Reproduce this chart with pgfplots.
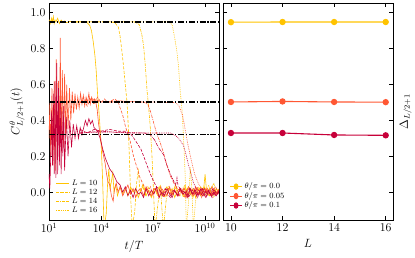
\documentclass[border=0pt]{standalone}
\usepackage{pgfplots}
\pgfplotsset{compat=1.18}
\definecolor{cA}{HTML}{FFC300}
\definecolor{cB}{HTML}{FF5733}
\definecolor{cC}{HTML}{C70039}
\tikzset{
  sL10/.style={solid},
  sL12/.style={dash pattern=on 3pt off 1.5pt},
  sL14/.style={dash pattern=on 3pt off 1pt on 0.8pt off 1pt},
  sL16/.style={dash pattern=on 0.8pt off 1pt},
  refline/.style={black, line width=1.3pt, dash pattern=on 6pt off 1.8pt on 1.2pt off 1.8pt},
}
\pgfplotsset{
  common/.style={
    scale only axis, width=170bp, height=217bp,
    ymin=-0.155, ymax=1.055, ytick={0,0.2,0.4,0.6,0.8,1.0},
    tick align=inside, major tick length=4bp,
    axis line style={line width=0.8pt},
    every tick/.style={line width=0.8pt, black},
    tick label style={font=\fontsize{11.5}{12}\selectfont},
    label style={font=\fontsize{11.5}{12}\selectfont},
    yticklabel style={/pgf/number format/.cd, fixed, fixed zerofill, precision=1},
    legend style={draw=none, fill=none, font=\fontsize{8.5}{9}\selectfont, row sep=-2pt},
    legend cell align=left,
  },
}
\begin{document}
\begin{tikzpicture}
\begin{axis}[common,
  xmin=1, xmax=10.8, xtick={1,4,7,10},
  xticklabels={$10^{1}$,$10^{4}$,$10^{7}$,$10^{10}$},
  xlabel={$t/T$}, ylabel={$C^{\theta}_{L/2+1}(t)$},
  xlabel style={yshift=-1bp}, ylabel style={yshift=-1bp},
  legend style={at={(0.02,0.01)}, anchor=south west},
  legend image post style={xscale=0.8},
  every axis plot/.append style={line width=0.6pt},
]
\addlegendimage{cA, sL10, line width=0.6pt}\addlegendentry{$L=10$}
\addlegendimage{cA, sL12, line width=0.6pt}\addlegendentry{$L=12$}
\addlegendimage{cA, sL14, line width=0.6pt}\addlegendentry{$L=14$}
\addlegendimage{cA, sL16, line width=0.6pt}\addlegendentry{$L=16$}
% theta/pi = 0.0
\addplot[cA, sL10, forget plot] coordinates {(1.00,0.95)(1.05,0.96)(1.10,0.94)(1.15,0.97)(1.20,0.95)(1.25,0.98)(1.30,0.94)(1.35,0.96)(1.40,0.95)(1.50,0.97)(1.60,0.94)(1.70,0.96)(1.80,0.95)(1.90,0.955)(2.0,0.945)(2.2,0.952)(2.5,0.948)(2.8,0.95)(3.0,0.949)(3.2,0.945)(3.35,0.93)(3.45,0.9)(3.55,0.84)(3.65,0.76)(3.72,0.68)(3.8,0.55)(3.88,0.45)(3.95,0.35)(4.02,0.24)(4.08,0.1)(4.13,-0.05)(4.18,-0.2)(4.3,-0.12)(4.38,0.05)(4.45,0.13)(4.52,0.02)(4.6,0.06)(4.68,0.11)(4.75,0.0)(4.85,0.04)(4.95,-0.02)
(5.1,0.03)(5.25,-0.01)(5.4,0.02)(5.55,-0.02)(5.7,0.03)(5.85,0.00)(6.0,0.02)(6.15,-0.03)(6.3,0.01)(6.45,0.04)(6.6,-0.02)(6.75,0.01)(6.9,-0.03)(7.05,0.02)(7.2,0.00)(7.35,0.03)(7.5,-0.02)(7.65,0.01)(7.8,0.03)(7.95,-0.01)(8.1,0.02)(8.25,-0.03)(8.4,0.01)(8.55,0.02)(8.7,-0.01)(8.85,0.03)(9.0,-0.02)(9.15,0.00)(9.3,0.02)(9.45,-0.03)(9.6,0.01)(9.75,0.03)(9.9,0.0)(10.0,0.1)(10.1,-0.01)(10.25,0.02)(10.4,-0.02)(10.55,0.01)(10.7,-0.01)(10.8,0.01)};
\addplot[cA, sL12, forget plot] coordinates {(2.5,0.95)(3.5,0.95)(4.5,0.95)(4.8,0.945)(5.0,0.92)(5.1,0.87)(5.2,0.79)(5.3,0.7)(5.4,0.6)(5.5,0.5)(5.58,0.35)(5.65,0.15)(5.72,-0.05)(5.8,-0.2)(5.95,-0.1)(6.05,0.05)(6.15,0.12)(6.25,0.0)(6.4,0.04)(6.55,-0.02)(6.7,0.03)(6.9,-0.01)
(7.1,0.02)(7.25,-0.02)(7.4,0.03)(7.55,0.00)(7.7,-0.03)(7.85,0.02)(8.0,0.01)(8.15,-0.02)(8.3,0.04)(8.45,-0.01)(8.6,0.02)(8.75,-0.03)(8.9,0.01)(9.05,0.03)(9.2,-0.02)(9.35,0.01)(9.5,-0.01)(9.65,0.02)(9.8,-0.02)(9.95,0.03)(10.1,0.0)(10.25,-0.02)(10.4,0.03)(10.55,0.0)(10.7,0.02)(10.8,-0.01)};
\addplot[cA, sL14, forget plot] coordinates {(2.5,0.95)(5.9,0.95)(6.2,0.935)(6.35,0.88)(6.45,0.82)(6.55,0.71)(6.65,0.57)(6.75,0.47)(6.85,0.35)(6.95,0.18)(7.05,-0.05)(7.12,-0.2)(7.3,-0.05)(7.42,0.04)(7.5,-0.08)(7.6,-0.2)(7.75,-0.05)(7.9,0.03)
(8.1,-0.01)(8.25,0.03)(8.4,0.0)(8.55,-0.02)(8.7,0.02)(8.85,0.04)(9.0,-0.01)(9.15,0.01)(9.3,-0.03)(9.45,0.02)(9.6,0.0)(9.75,-0.02)(9.9,0.03)(10.05,0.01)(10.2,-0.02)(10.35,0.02)(10.5,0.05)(10.65,-0.01)(10.8,0.02)};
\addplot[cA, sL16, forget plot] coordinates {(2.5,0.95)(7.9,0.95)(8.1,0.935)(8.25,0.86)(8.38,0.78)(8.47,0.7)(8.57,0.56)(8.67,0.46)(8.75,0.32)(8.85,0.1)(8.92,-0.2)(9.05,-0.05)(9.15,0.14)(9.25,0.0)(9.32,-0.2)(9.45,-0.05)
(9.6,0.03)(9.75,-0.01)(9.9,0.02)(10.05,-0.02)(10.2,0.04)(10.35,0.0)(10.5,-0.03)(10.65,0.02)(10.8,0.0)};
% theta/pi = 0.05
\addplot[cB, sL10, forget plot] coordinates {(1.0,0.3)(1.05,0.5)(1.1,0.2)(1.17,0.58)(1.23,0.15)(1.3,0.62)(1.36,0.12)(1.42,0.74)(1.48,0.18)(1.55,0.62)(1.6,0.2)(1.65,0.86)(1.7,0.22)(1.77,0.68)(1.83,0.25)(1.9,0.66)(1.96,0.3)(2.02,0.6)(2.1,0.35)(2.18,0.58)(2.26,0.4)(2.34,0.56)(2.42,0.44)(2.5,0.55)(2.58,0.46)(2.66,0.53)(2.74,0.47)(2.82,0.55)(2.9,0.49)(2.98,0.54)(3.06,0.48)(3.14,0.53)(3.22,0.5)(3.3,0.55)(3.38,0.49)(3.46,0.53)(3.54,0.5)(3.62,0.52)(3.7,0.5)(3.78,0.46)(3.86,0.38)(3.95,0.32)(4.05,0.25)(4.15,0.2)(4.24,0.16)(4.32,0.1)(4.4,0.06)(4.5,0.04)(4.6,-0.02)(4.7,-0.05)(4.78,0.02)(4.88,0.05)(4.98,0.0)
(5.1,0.03)(5.25,-0.02)(5.4,0.01)(5.55,0.04)(5.7,-0.01)(5.85,0.02)(6.0,-0.03)(6.15,0.01)(6.3,0.02)(6.45,-0.02)(6.6,0.03)(6.75,0.0)(6.9,-0.02)(7.05,0.02)(7.2,0.01)(7.35,-0.03)(7.5,0.02)(7.65,0.0)(7.8,-0.02)(7.95,0.03)(8.1,-0.01)(8.25,0.01)(8.4,-0.02)(8.55,0.02)(8.7,0.0)(8.85,-0.03)(9.0,0.02)(9.15,0.01)(9.3,-0.02)(9.45,0.03)(9.6,-0.01)(9.75,0.01)(9.9,-0.02)(10.05,0.02)(10.2,0.0)(10.35,-0.02)(10.5,0.02)(10.65,-0.01)(10.8,0.01)};
\addplot[cB, sL12, forget plot] coordinates {(2.8,0.5)(3.0,0.53)(3.2,0.48)(3.4,0.52)(3.6,0.49)(3.8,0.53)(4.0,0.5)(4.2,0.52)(4.4,0.5)(4.6,0.51)(4.8,0.52)(5.0,0.5)(5.1,0.47)(5.25,0.43)(5.4,0.37)(5.55,0.32)(5.68,0.285)(5.85,0.21)(6.0,0.16)(6.1,0.13)(6.25,0.08)(6.4,0.05)(6.55,0.02)
(6.7,0.0)(6.85,0.03)(7.0,-0.02)(7.15,0.02)(7.3,-0.01)(7.45,0.03)(7.6,-0.03)(7.75,0.01)(7.9,0.02)(8.05,-0.02)(8.2,0.01)(8.35,0.03)(8.5,-0.02)(8.65,0.0)(8.8,0.02)(8.95,-0.03)(9.1,0.01)(9.25,0.02)(9.4,-0.01)(9.55,0.03)(9.7,-0.02)(9.85,0.01)(10.0,0.0)(10.15,0.02)(10.3,-0.02)(10.45,0.01)(10.6,0.03)(10.8,-0.01)};
\addplot[cB, sL14, forget plot] coordinates {(2.8,0.5)(3.5,0.52)(4.2,0.5)(5.0,0.51)(6.5,0.5)(6.7,0.49)(6.85,0.45)(7.0,0.4)(7.2,0.33)(7.4,0.28)(7.6,0.22)(7.8,0.15)(8.0,0.09)(8.2,0.05)(8.4,0.02)
(8.6,0.0)(8.75,0.02)(8.9,-0.02)(9.05,0.03)(9.2,0.0)(9.35,-0.02)(9.5,0.02)(9.65,0.01)(9.8,-0.03)(9.95,0.02)(10.1,0.0)(10.25,-0.01)(10.4,0.03)(10.55,-0.02)(10.7,0.01)(10.8,0.0)};
\addplot[cB, sL16, forget plot] coordinates {(2.8,0.5)(3.6,0.51)(4.4,0.5)(6.0,0.505)(8.3,0.5)(8.5,0.48)(8.7,0.43)(8.85,0.35)(9.0,0.27)(9.2,0.18)(9.4,0.1)(9.6,0.05)(9.8,0.02)
(10.0,0.0)(10.15,0.02)(10.3,-0.02)(10.45,0.01)(10.6,-0.01)(10.8,0.02)};
% theta/pi = 0.1
\addplot[cC, sL10, forget plot] coordinates {(1.0,0.1)(1.05,0.02)(1.1,0.2)(1.15,0.45)(1.2,0.15)(1.25,0.55)(1.3,0.1)(1.35,0.62)(1.4,0.08)(1.45,0.72)(1.5,0.1)(1.55,0.58)(1.6,0.15)(1.65,0.5)(1.7,0.1)(1.75,0.45)(1.8,0.2)(1.85,0.48)(1.9,0.12)(2.0,0.42)(2.1,0.2)(2.2,0.4)(2.3,0.25)(2.4,0.38)(2.5,0.3)(2.6,0.37)(2.7,0.3)(2.8,0.36)(2.9,0.32)(3.0,0.36)(3.1,0.4)(3.2,0.37)(3.3,0.41)(3.4,0.38)(3.5,0.4)(3.6,0.36)(3.7,0.35)(3.8,0.34)(3.95,0.3)(4.1,0.24)(4.25,0.19)(4.33,0.17)(4.5,0.13)(4.72,0.1)(4.9,0.06)(5.1,0.04)(5.25,0.0)
(5.4,0.03)(5.55,-0.02)(5.7,0.01)(5.85,-0.03)(6.0,0.02)(6.15,-0.01)(6.3,0.0)(6.45,-0.03)(6.6,0.02)(6.75,-0.02)(6.9,0.01)(7.05,-0.01)(7.2,0.03)(7.35,-0.03)(7.5,0.0)(7.65,-0.02)(7.8,0.02)(7.95,-0.01)(8.1,-0.03)(8.25,0.01)(8.4,-0.02)(8.55,0.02)(8.7,-0.01)(8.85,0.0)(9.0,-0.03)(9.15,0.02)(9.3,-0.01)(9.45,0.01)(9.6,-0.02)(9.75,0.02)(9.9,-0.01)(10.05,-0.03)(10.2,0.01)(10.35,-0.02)(10.5,0.0)(10.65,-0.02)(10.8,0.01)};
\addplot[cC, sL12, forget plot] coordinates {(2.8,0.35)(3.2,0.33)(3.6,0.35)(4.0,0.34)(4.5,0.35)(5.0,0.34)(5.4,0.34)(5.68,0.33)(5.9,0.3)(6.1,0.27)(6.3,0.24)(6.5,0.19)(6.65,0.15)(6.85,0.1)(7.03,0.06)(7.2,0.03)
(7.4,0.01)(7.55,-0.02)(7.7,0.02)(7.85,-0.01)(8.0,-0.03)(8.15,0.01)(8.3,0.0)(8.45,-0.02)(8.6,0.02)(8.75,-0.01)(8.9,0.01)(9.05,-0.03)(9.2,0.0)(9.35,0.02)(9.5,-0.02)(9.65,0.01)(9.8,-0.01)(9.95,0.02)(10.1,-0.02)(10.25,0.0)(10.4,-0.03)(10.55,0.01)(10.7,-0.01)(10.8,0.0)};
\addplot[cC, sL14, forget plot] coordinates {(2.8,0.33)(4.0,0.34)(5.5,0.33)(6.5,0.33)(6.84,0.32)(7.1,0.29)(7.3,0.25)(7.6,0.21)(7.8,0.15)(8.0,0.1)(8.2,0.06)(8.3,0.04)(8.38,0.08)(8.45,0.03)(8.6,0.02)
(8.8,0.0)(8.95,-0.02)(9.1,0.02)(9.25,-0.01)(9.4,0.01)(9.55,-0.03)(9.7,0.0)(9.85,0.02)(10.0,-0.02)(10.15,0.01)(10.3,-0.01)(10.45,0.02)(10.6,-0.02)(10.8,0.0)};
\addplot[cC, sL16, forget plot] coordinates {(2.8,0.33)(4.5,0.335)(6.5,0.33)(8.0,0.33)(8.2,0.32)(8.38,0.31)(8.55,0.29)(8.76,0.26)(8.9,0.21)(9.05,0.15)(9.2,0.1)(9.34,0.05)(9.5,0.02)
(9.7,0.0)(9.85,-0.02)(10.0,0.01)(10.15,-0.01)(10.3,0.02)(10.45,-0.02)(10.6,0.0)(10.8,-0.01)};
% reference levels
\addplot[refline, forget plot] coordinates {(1,0.949)(10.8,0.949)};
\addplot[refline, forget plot] coordinates {(1,0.503)(10.8,0.503)};
\addplot[refline, forget plot] coordinates {(1,0.322)(10.8,0.322)};
\end{axis}
\begin{axis}[common, at={(174bp,0)}, anchor=south west,
  xmin=9.69, xmax=16.28, xtick={10,12,14,16},
  yticklabels={}, xlabel={$L$}, ylabel={$\Delta_{L/2+1}$},
  xlabel style={yshift=-1bp},
  ylabel style={at={(axis description cs:1.075,0.5)}, anchor=center},
  legend style={at={(0.02,0.03)}, anchor=south west},
  legend image post style={xscale=0.7},
  every axis plot/.append style={line width=1.1pt, mark=*, mark size=2.6bp, mark options={solid}},
]
\addplot[cA] coordinates {(10,0.948)(12,0.949)(14,0.949)(16,0.949)};
\addlegendentry{$\theta/\pi=0.0$}
\addplot[cB] coordinates {(10,0.503)(12,0.506)(14,0.503)(16,0.502)};
\addlegendentry{$\theta/\pi=0.05$}
\addplot[cC] coordinates {(10,0.330)(12,0.330)(14,0.319)(16,0.317)};
\addlegendentry{$\theta/\pi=0.1$}
\end{axis}
\path[use as bounding box] (-49bp,-38bp) rectangle (366bp,220bp);
\end{tikzpicture}
\end{document}
